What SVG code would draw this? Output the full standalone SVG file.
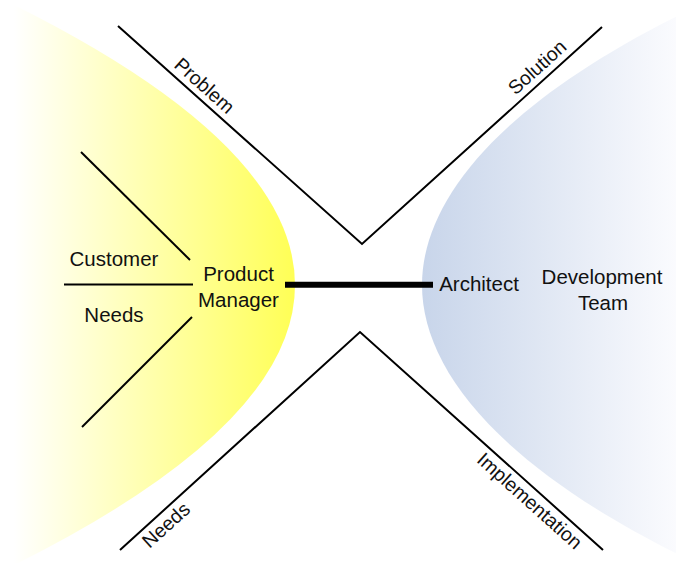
<svg xmlns="http://www.w3.org/2000/svg" width="676" height="563" viewBox="0 0 676 563">
  <style>
    .lbl { font-family: "Liberation Sans", Arial, sans-serif; font-size: 20.5px; fill: #111; text-anchor: middle; }
    .edge { font-family: "Liberation Sans", Arial, sans-serif; font-size: 19.5px; fill: #111; text-anchor: middle; }
    .ln { stroke: #000; stroke-width: 2; fill: none; stroke-linecap: butt; }
    .link { stroke: #000; stroke-width: 6; fill: none; }
  </style>
  <defs>
    <linearGradient id="yellowFade" gradientUnits="userSpaceOnUse" x1="14" y1="0" x2="296" y2="0">
      <stop offset="0" stop-color="#FFFFFF"/>
      <stop offset="1" stop-color="#FFFF55"/>
    </linearGradient>
    <linearGradient id="blueFade" gradientUnits="userSpaceOnUse" x1="422" y1="0" x2="690" y2="0">
      <stop offset="0" stop-color="#C8D5EA"/>
      <stop offset="1" stop-color="#FDFDFF"/>
    </linearGradient>
  </defs>

  <rect x="0" y="0" width="676" height="563" fill="#FFFFFF"/>

  <!-- product manager side: customer needs funnel -->
  <g id="product-manager">
    <path d="M0,5 L14,5 Q576,285 14,565 L0,565 Z" fill="url(#yellowFade)"/>
    <text class="lbl" x="238.5" y="281">Product</text>
    <text class="lbl" x="238.5" y="307">Manager</text>
  </g>

  <g id="customer-needs">
    <line class="ln" x1="81" y1="152" x2="190" y2="260"/>
    <line class="ln" x1="64" y1="284.5" x2="193" y2="284.5"/>
    <line class="ln" x1="192" y1="317" x2="82" y2="427"/>
    <text class="lbl" x="114" y="266">Customer</text>
    <text class="lbl" x="114" y="322">Needs</text>
  </g>

  <!-- development side -->
  <g id="development-team">
    <path d="M700,5 C500,100 422,200 422,285 C422,370 500,470 700,565 Z" fill="url(#blueFade)"/>
    <text class="lbl" x="602" y="284">Development</text>
    <text class="lbl" x="603" y="310">Team</text>
  </g>

  <g id="architect">
    <text class="lbl" x="479" y="291">Architect</text>
  </g>

  <!-- connectors: hourglass walls and the PM/architect link -->
  <g id="connectors">
    <polyline class="ln" points="118,26 362,244 602,27"/>
    <polyline class="ln" points="120,550 360,332 603,550"/>
    <line class="link" x1="285" y1="284.7" x2="433" y2="284.7"/>
  </g>

  <g id="wall-labels">
    <text class="edge" transform="translate(200,90.6) rotate(41.8)">Problem</text>
    <text class="edge" transform="translate(541.6,72.2) rotate(-42.1)">Solution</text>
    <text class="edge" transform="translate(170.5,530) rotate(-42.2)">Needs</text>
    <text class="edge" transform="translate(525.3,505.8) rotate(41.9)">Implementation</text>
  </g>
</svg>
